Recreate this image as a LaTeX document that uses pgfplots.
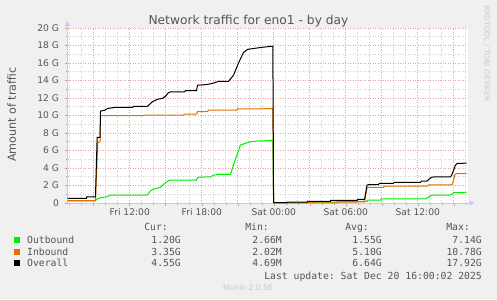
\documentclass[border=0pt]{standalone}
\usepackage{pgfplots}
\pgfplotsset{compat=1.18}
\usepackage{fontspec}
\setmainfont{DejaVu Sans}
\setmonofont{DejaVu Sans Mono}
\usetikzlibrary{arrows.meta}
\definecolor{bg}{RGB}{240,240,240}
\definecolor{txt}{RGB}{85,85,85}
\definecolor{faint}{RGB}{200,200,200}
\definecolor{mingrid}{RGB}{210,210,210}
\definecolor{majgrid}{RGB}{230,160,160}
\definecolor{axiscol}{RGB}{200,200,255}
\definecolor{outc}{RGB}{0,238,0}
\definecolor{inc}{RGB}{224,112,0}
\definecolor{allc}{RGB}{0,0,0}
\begin{document}
\begin{tikzpicture}[x=1bp,y=1bp]
\path[use as bounding box,fill=bg] (0,0) rectangle (497,299);
\begin{axis}[
  at={(67.5bp,96bp)}, anchor=south west,
  scale only axis, width=400bp, height=175bp,
  xmin=-17.19, xmax=16.14, ymin=0, ymax=20,
  axis background/.style={fill=white},
  axis lines=left,
  x axis line style={color=axiscol, line width=0.8bp, shorten >=-7bp, -{Triangle[length=5bp,width=5bp]}},
  y axis line style={color=axiscol, line width=0.8bp, shorten >=-7bp, -{Triangle[length=5bp,width=5bp]}},
  xtick={-15,-12,-9,-6,-3,0,3,6,9,12,15},
  xticklabels={,Fri 12:00,,Fri 18:00,,Sat 00:00,,Sat 06:00,,Sat 12:00,},
  minor xtick={-17,-16,...,16},
  ytick={0,2,...,20},
  yticklabels={0,2 G,4 G,6 G,8 G,10 G,12 G,14 G,16 G,18 G,20 G},
  minor ytick={1,3,...,19},
  grid=both,
  major grid style={color=majgrid, line width=0.8bp, dash pattern=on 1bp off 1.5bp},
  minor grid style={color=mingrid, line width=0.8bp, dash pattern=on 1bp off 1.5bp},
  tick align=outside,
  major tick length=2.5bp, minor tick length=2bp,
  tick style={color=gray!70, line width=0.6bp},
  xticklabel style={font=\fontsize{9.2}{10}\selectfont, text=txt},
  yticklabel style={font=\fontsize{9.2}{10}\selectfont, text=txt, xshift=-2.5bp},
  clip=false,
]
\addplot[color=outc, line width=1bp, mark=none] coordinates {
(-17.19,0.25) (-14.86,0.25) (-14.72,0.46) (-14.44,0.6) (-13.88,0.72) (-13.61,0.91) (-10.55,0.91) (-10.28,1.37) (-10.03,1.6) (-9.44,1.79) (-9.19,2.13) (-8.78,2.55) (-8.61,2.62) (-6.44,2.62) (-6.33,2.94) (-5.19,3.0) (-5.11,3.16) (-4.61,3.27) (-3.61,3.27) (-3.36,4.34) (-2.78,6.63) (-2.36,6.82) (-1.94,7.0) (-1.28,7.09) (-0.08,7.14) (-0.02,0.01) (5.28,0.01) (5.31,0.19) (7.78,0.19) (7.81,0.34) (8.89,0.34) (8.97,0.46) (12.64,0.46) (13.2,0.91) (14.72,0.91) (15.0,1.18) (15.9,1.2) (16.06,1.25)
};
\addplot[color=inc, line width=1bp, mark=none] coordinates {
(-17.19,0.26) (-14.86,0.26) (-14.67,6.9) (-14.48,7.0) (-14.44,10.0) (-10.86,10.0) (-10.78,10.05) (-7.53,10.05) (-7.44,10.17) (-6.44,10.17) (-6.36,10.45) (-5.53,10.45) (-5.44,10.62) (-3.11,10.62) (-3.03,10.75) (-0.08,10.78) (-0.02,0.02) (2.78,0.02) (2.8,0.08) (7.56,0.12) (7.77,1.75) (7.9,1.79) (9.14,1.79) (9.22,1.94) (12.78,1.94) (12.9,2.06) (14.87,2.06) (15.1,3.3) (15.22,3.35) (16.06,3.35)
};
\addplot[color=allc, line width=1bp, mark=none] coordinates {
(-17.19,0.54) (-15.61,0.54) (-15.6,0.69) (-14.86,0.69) (-14.72,7.5) (-14.48,7.5) (-14.44,10.5) (-14.1,10.6) (-13.86,10.8) (-13.19,10.93) (-11.78,10.93) (-11.69,11.05) (-10.53,11.05) (-10.11,11.58) (-9.69,11.85) (-9.28,11.96) (-9.03,12.2) (-8.78,12.6) (-8.61,12.7) (-7.44,12.7) (-7.36,12.85) (-6.44,12.85) (-6.36,13.45) (-5.53,13.55) (-5.03,13.7) (-4.61,13.9) (-3.78,13.9) (-3.36,14.6) (-2.94,16.0) (-2.53,17.2) (-2.19,17.56) (-0.94,17.8) (-0.08,17.92) (-0.02,0.04) (1.12,0.04) (1.14,0.1) (2.78,0.1) (2.8,0.2) (4.72,0.2) (4.74,0.3) (6.95,0.3) (6.97,0.42) (7.56,0.42) (7.77,2.06) (7.9,2.1) (8.72,2.1) (8.8,2.25) (9.97,2.25) (10.05,2.36) (12.22,2.36) (12.3,2.5) (12.78,2.5) (12.9,2.7) (13.2,2.97) (14.72,3.0) (14.8,3.12) (15.14,4.34) (15.28,4.53) (16.06,4.55)
};
\end{axis}
% title and labels
\node[anchor=base, text=txt, font=\fontsize{12.3}{14}\selectfont, inner sep=0pt] at (248.5,275) {Network traffic for eno1 - by day};
\node[rotate=90, text=txt, font=\fontsize{11.2}{13}\selectfont, inner sep=0pt] at (11.7,184.5) {Amount of traffic};
\node[rotate=-90, text=faint, font=\fontsize{7.5}{8}\selectfont, inner sep=0pt] at (486.7,245.5) {RRDTOOL / TOBI OETIKER};
% legend
\begin{scope}[every node/.style={inner sep=0pt, text=txt, font=\ttfamily\fontsize{9.8}{11}\selectfont}]
\node[anchor=base east] at (168,68.1) {Cur:};
\node[anchor=base east] at (269,68.1) {Min:};
\node[anchor=base east] at (369,68.1) {Avg:};
\node[anchor=base east] at (470,68.1) {Max:};
\fill[outc] (14,56.5) rectangle (20,62.5);
\fill[inc] (14,44.3) rectangle (20,50.3);
\fill[allc] (14,32.7) rectangle (20,38.7);
\node[anchor=base west] at (27,55.9) {Outbound};
\node[anchor=base west] at (27,43.7) {Inbound};
\node[anchor=base west] at (27,32.1) {Overall};
\node[anchor=base east] at (181,55.9) {1.20G};
\node[anchor=base east] at (282,55.9) {2.66M};
\node[anchor=base east] at (382,55.9) {1.55G};
\node[anchor=base east] at (482,55.9) {7.14G};
\node[anchor=base east] at (181,43.7) {3.35G};
\node[anchor=base east] at (282,43.7) {2.02M};
\node[anchor=base east] at (382,43.7) {5.10G};
\node[anchor=base east] at (482,43.7) {10.78G};
\node[anchor=base east] at (181,32.1) {4.55G};
\node[anchor=base east] at (282,32.1) {4.69M};
\node[anchor=base east] at (382,32.1) {6.64G};
\node[anchor=base east] at (482,32.1) {17.92G};
\node[anchor=base east] at (482,19.7) {Last update: Sat Dec 20 16:00:02 2025};
\end{scope}
\node[anchor=base, text=faint, font=\fontsize{7.6}{9}\selectfont, inner sep=0pt] at (248,8.2) {Munin 2.0.56};
\end{tikzpicture}
\end{document}
